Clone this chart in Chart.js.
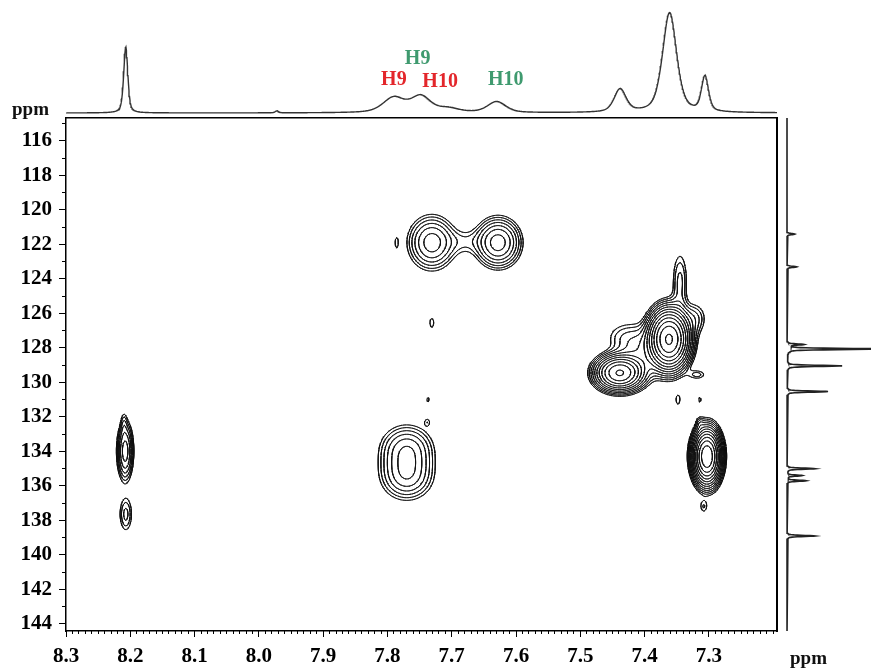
<!DOCTYPE html>
<html>
<head>
<meta charset="utf-8">
<script src="https://cdn.jsdelivr.net/npm/chart.js@4.4.1/dist/chart.umd.min.js"></script>
<style>
  html, body { margin: 0; padding: 0; background: #fff; }
  #wrap { position: relative; width: 871px; height: 668px; overflow: hidden; }
  canvas { position: absolute; }
  .unit { position: absolute; font: bold 19px "Liberation Serif", "Times New Roman", serif; color: #111; line-height: 1; }
</style>
</head>
<body>
<div id="wrap">
  <canvas id="main" width="871" height="668" style="left:0;top:0"></canvas>
  <canvas id="top" width="871" height="118" style="left:0;top:0"></canvas>
  <canvas id="side" width="94" height="668" style="left:777px;top:0"></canvas>
  <div class="unit" style="left:12px;top:99px">ppm</div>
  <div class="unit" style="left:790px;top:648px">ppm</div>
</div>
<script>
// axes (ppm)
const hTicks = [8.3, 8.2, 8.1, 8.0, 7.9, 7.8, 7.7, 7.6, 7.5, 7.4, 7.3];
const cTicks = [116, 118, 120, 122, 124, 126, 128, 130, 132, 134, 136, 138, 140, 142, 144];
const hLimits = [7.194, 8.30];
const cLimits = [114.67, 144.41];

// cross peaks: 1H shift, 13C shift, height, 1H sigma, 13C sigma
const peakH    = [8.208, 8.210, 8.207, 7.731, 7.628, 7.680, 7.786, 7.731, 7.737, 7.770, 7.770, 7.738, 7.439, 7.362, 7.345, 7.405, 7.432, 7.322, 7.303, 7.308, 7.318, 7.348, 7.314, 7.314];
const peakC    = [134.0, 132.4, 137.65, 121.9, 121.9, 121.85, 121.9, 126.55, 131.0, 133.9, 135.4, 132.3, 129.45, 127.5, 124.2, 128.3, 127.4, 126.3, 134.3, 137.2, 129.55, 131.0, 131.0, 132.35];
const peakAmp  = [6.5, 1.0, 2.2, 6.5, 9, 1.2, 1.0, 1.3, 1.15, 5.0, 5.0, 1.15, 30, 60, 2.2, 3.0, 1.5, 2.0, 55, 1.4, 1.6, 1.3, 1.15, 1.3];
const peakSigH = [0.007, 0.003, 0.007, 0.020, 0.0186, 0.02, 0.004, 0.004, 0.003, 0.023, 0.023, 0.004, 0.019, 0.0155, 0.008, 0.02, 0.02, 0.012, 0.0108, 0.005, 0.010, 0.004, 0.003, 0.004];
const peakSigC = [0.95, 0.5, 0.7, 0.85, 0.76, 0.5, 0.55, 0.35, 0.25, 0.8, 0.8, 0.2, 0.52, 0.85, 1.2, 0.9, 0.6, 0.6, 0.8, 0.3, 0.2, 0.35, 0.25, 0.25];
const contourLevels = [1, 1.4, 1.96, 2.74, 3.84, 5.38, 7.53, 10.5, 14.8, 20.7, 28.9, 40.5, 56.7, 79.4];

// 1H projection (top): shift, height, half width
const topShift  = [8.207, 7.972, 7.790, 7.748, 7.705, 7.630, 7.438, 7.361, 7.306];
const topHeight = [66, 2, 15, 16, 4, 11, 23, 100, 35];
const topWidth  = [0.0038, 0.003, 0.02, 0.018, 0.02, 0.017, 0.011, 0.013, 0.0065];

// 13C projection (right)
const sideShift  = [121.4, 123.3, 127.8, 128.06, 129.04, 130.53, 135.0, 135.4, 135.7, 138.9];
const sideHeight = [8, 10, 16, 100, 55, 41, 28, 15, 19, 28];
const sideWidth  = [0.04, 0.04, 0.04, 0.04, 0.04, 0.04, 0.04, 0.04, 0.04, 0.04];

// assignments over the 1H trace
const labelText  = ['H9', 'H9', 'H10', 'H10'];
const labelShift = [7.790, 7.753, 7.718, 7.616];
const labelLift  = [33, 54, 31, 33];
const labelColor = ['#e3262b', '#3f9a6f', '#e3262b', '#3f9a6f'];

const serif = '"Liberation Serif", "Times New Roman", serif';
Chart.defaults.font.family = serif;

function shape(d, w) {
  const t = d / w;
  return 0.5 / (1 + t * t) + 0.5 * Math.exp(-0.693 * t * t);
}

// ---- 2D field + contours ----
const nx = 560, ny = 500;
const dh = (hLimits[1] - hLimits[0]) / (nx - 1);
const dc = (cLimits[1] - cLimits[0]) / (ny - 1);
const field = new Float32Array(nx * ny);
for (let p = 0; p < peakH.length; p++) {
  const sh = peakSigH[p], sc = peakSigC[p];
  const i0 = Math.max(0, Math.floor((peakH[p] - 5 * sh - hLimits[0]) / dh));
  const i1 = Math.min(nx - 1, Math.ceil((peakH[p] + 5 * sh - hLimits[0]) / dh));
  const j0 = Math.max(0, Math.floor((peakC[p] - 5 * sc - cLimits[0]) / dc));
  const j1 = Math.min(ny - 1, Math.ceil((peakC[p] + 5 * sc - cLimits[0]) / dc));
  for (let j = j0; j <= j1; j++) {
    const c = cLimits[0] + j * dc;
    const ec = peakAmp[p] * Math.exp(-((c - peakC[p]) ** 2) / (2 * sc * sc));
    for (let i = i0; i <= i1; i++) {
      const h = hLimits[0] + i * dh;
      field[j * nx + i] += ec * Math.exp(-((h - peakH[p]) ** 2) / (2 * sh * sh));
    }
  }
}

const CASES = [[], [[2, 3]], [[1, 2]], [[1, 3]], [[0, 1]], [[0, 1], [2, 3]], [[0, 2]], [[0, 3]],
  [[0, 3]], [[0, 2]], [[0, 3], [1, 2]], [[0, 1]], [[1, 3]], [[1, 2]], [[2, 3]], []];

const contourPts = [];
for (const lv of contourLevels) {
  for (let j = 0; j < ny - 1; j++) {
    for (let i = 0; i < nx - 1; i++) {
      const a = field[j * nx + i], b = field[j * nx + i + 1];
      const c = field[(j + 1) * nx + i + 1], d = field[(j + 1) * nx + i];
      const code = (a > lv ? 8 : 0) | (b > lv ? 4 : 0) | (c > lv ? 2 : 0) | (d > lv ? 1 : 0);
      if (code === 0 || code === 15) continue;
      const xl = hLimits[0] + i * dh, yt = cLimits[0] + j * dc;
      const edge = (k) => {
        if (k === 0) return { x: xl + dh * (lv - a) / (b - a), y: yt };
        if (k === 1) return { x: xl + dh, y: yt + dc * (lv - b) / (c - b) };
        if (k === 2) return { x: xl + dh * (lv - d) / (c - d), y: yt + dc };
        return { x: xl, y: yt + dc * (lv - a) / (d - a) };
      };
      for (const [p, q] of CASES[code]) {
        contourPts.push(edge(p), edge(q), { x: null, y: null });
      }
    }
  }
}

// ---- projections ----
const topPts = [];
for (let h = hLimits[0]; h <= hLimits[1]; h += 0.0008) {
  let v = 0;
  topShift.forEach((s, k) => { v += topHeight[k] * shape(h - s, topWidth[k]); });
  topPts.push({ x: h, y: v });
}
const sidePts = [];
for (let c = cLimits[0]; c <= cLimits[1]; c += 0.01) {
  let v = 0;
  sideShift.forEach((s, k) => { v += sideHeight[k] * shape(c - s, sideWidth[k]); });
  sidePts.push({ x: v, y: c });
}

// ---- main 2D plot ----
const tickFont = { family: serif, size: 21, weight: 'bold' };
const hMinor = [];
for (let k = 720; k <= 830; k++) hMinor.push(k / 100);
const cMinor = [];
for (let k = 115; k <= 144; k++) cMinor.push(k);

new Chart(document.getElementById('main'), {
  type: 'scatter',
  data: {
    datasets: [{
      data: contourPts,
      showLine: true,
      spanGaps: false,
      borderColor: '#111',
      borderWidth: 0.9,
      borderCapStyle: 'round',
      borderJoinStyle: 'round',
      pointRadius: 0,
      tension: 0
    }]
  },
  options: {
    responsive: false,
    animation: false,
    events: [],
    layout: { padding: { left: 0, right: 94, top: 118, bottom: 0 } },
    plugins: { legend: { display: false }, tooltip: { enabled: false } },
    scales: {
      x: {
        type: 'linear', position: 'bottom', weight: 1, reverse: true,
        min: hLimits[0], max: hLimits[1],
        afterBuildTicks: s => { s.ticks = hTicks.map(v => ({ value: v })); },
        afterFit: s => { s.height = 37; },
        grid: { drawOnChartArea: false, color: '#000', tickLength: 6 },
        border: { color: '#000', width: 1.5 },
        ticks: { font: tickFont, color: '#000', padding: 7, autoSkip: false, maxRotation: 0, callback: v => v.toFixed(1) }
      },
      xMinor: {
        type: 'linear', position: 'bottom', weight: 0, reverse: true,
        min: hLimits[0], max: hLimits[1],
        afterBuildTicks: s => { s.ticks = hMinor.map(v => ({ value: v })); },
        afterFit: s => { s.height = 0; },
        grid: { drawOnChartArea: false, color: '#000', tickLength: 3 },
        border: { display: false },
        ticks: { display: false }
      },
      xTop: {
        type: 'linear', position: 'top', min: hLimits[0], max: hLimits[1],
        afterFit: s => { s.height = 0; },
        grid: { display: false },
        border: { color: '#000', width: 1.5 },
        ticks: { display: false }
      },
      y: {
        type: 'linear', position: 'left', weight: 1, reverse: true,
        min: cLimits[0], max: cLimits[1],
        afterBuildTicks: s => { s.ticks = cTicks.map(v => ({ value: v })); },
        afterFit: s => { s.width = 66; },
        grid: { drawOnChartArea: false, color: '#000', tickLength: 7 },
        border: { color: '#000', width: 1.5 },
        ticks: { font: tickFont, color: '#000', padding: 7, autoSkip: false, callback: v => String(v) }
      },
      yMinor: {
        type: 'linear', position: 'left', weight: 0, reverse: true,
        min: cLimits[0], max: cLimits[1],
        afterBuildTicks: s => { s.ticks = cMinor.map(v => ({ value: v })); },
        afterFit: s => { s.width = 0; },
        grid: { drawOnChartArea: false, color: '#000', tickLength: 4 },
        border: { display: false },
        ticks: { display: false }
      },
      yRight: {
        type: 'linear', position: 'right', min: cLimits[0], max: cLimits[1],
        afterFit: s => { s.width = 0; },
        grid: { display: false },
        border: { color: '#000', width: 2 },
        ticks: { display: false }
      }
    }
  }
});

// ---- 1H trace on top ----
const peakLabels = {
  id: 'peakLabels',
  afterDatasetsDraw(chart) {
    const { ctx, scales: { x, y } } = chart;
    ctx.save();
    ctx.font = 'bold 20px ' + serif;
    ctx.textAlign = 'center';
    ctx.textBaseline = 'middle';
    labelText.forEach((t, i) => {
      ctx.fillStyle = labelColor[i];
      ctx.fillText(t, x.getPixelForValue(labelShift[i]), y.getPixelForValue(labelLift[i]));
    });
    ctx.restore();
  }
};

new Chart(document.getElementById('top'), {
  type: 'scatter',
  data: {
    datasets: [{ data: topPts, showLine: true, borderColor: '#333', borderWidth: 1.4, pointRadius: 0 }]
  },
  options: {
    responsive: false,
    animation: false,
    events: [],
    layout: { padding: { left: 66, right: 94, top: 0, bottom: 3 } },
    plugins: { legend: { display: false }, tooltip: { enabled: false } },
    scales: {
      x: { type: 'linear', display: false, reverse: true, min: hLimits[0], max: hLimits[1] },
      y: { type: 'linear', display: false, min: -2, max: 113 }
    }
  },
  plugins: [peakLabels]
});

// ---- 13C trace on the right ----
new Chart(document.getElementById('side'), {
  type: 'scatter',
  data: {
    datasets: [{ data: sidePts, showLine: true, borderColor: '#222', borderWidth: 1.6, pointRadius: 0 }]
  },
  options: {
    responsive: false,
    animation: false,
    events: [],
    layout: { padding: { left: 8, right: 0, top: 118, bottom: 37 } },
    plugins: { legend: { display: false }, tooltip: { enabled: false } },
    scales: {
      x: { type: 'linear', display: false, min: -2, max: 84 },
      y: { type: 'linear', display: false, reverse: true, min: cLimits[0], max: cLimits[1] }
    }
  }
});
</script>
</body>
</html>
